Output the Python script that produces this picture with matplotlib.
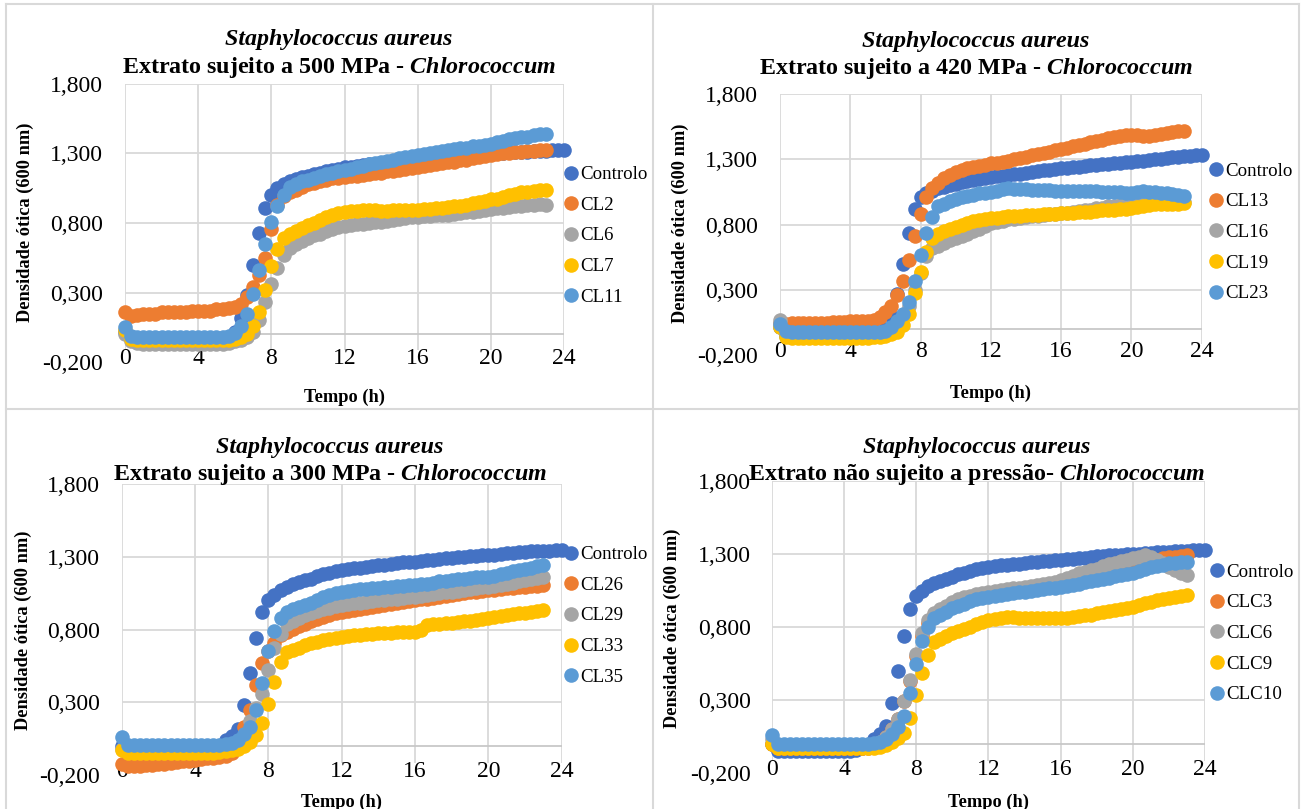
import matplotlib.pyplot as plt
from matplotlib.lines import Line2D
from matplotlib.ticker import FuncFormatter

plt.rcParams['font.family'] = 'Liberation Serif'
plt.rcParams['mathtext.fontset'] = 'custom'
plt.rcParams['mathtext.it'] = 'Liberation Serif:bold:italic'
plt.rcParams['mathtext.rm'] = 'Liberation Serif:bold'

# readings every 20 min; control runs to 24 h, extracts to 23 h
t_ctrl = [k / 3 for k in range(73)]
t_ext = t_ctrl[:70]

colors = ['#4472C4', '#ED7D31', '#A5A5A5', '#FFC000', '#5B9BD5']

# --- 500 MPa ---
names_500 = ['Controlo', 'CL2', 'CL6', 'CL7', 'CL11']
ctrl_500 = [
    0.02, -0.03, -0.04, -0.04, -0.04, -0.04, -0.04, -0.04, -0.04, -0.04, -0.04, -0.04,
    -0.04, -0.04, -0.04, -0.04, -0.03, -0.02, 0.02, 0.12, 0.28, 0.50, 0.73, 0.91,
    1.00, 1.05, 1.08, 1.10, 1.115, 1.13, 1.14, 1.15, 1.16, 1.17, 1.18, 1.19,
    1.20, 1.205, 1.21, 1.215, 1.22, 1.225, 1.23, 1.235, 1.24, 1.245, 1.25, 1.255,
    1.26, 1.265, 1.27, 1.273, 1.276, 1.28, 1.283, 1.286, 1.29, 1.293, 1.296, 1.298,
    1.30, 1.302, 1.304, 1.306, 1.308, 1.31, 1.312, 1.314, 1.316, 1.318,
    1.32, 1.322, 1.324]
cl2 = [
    0.16, 0.13, 0.14, 0.15, 0.15, 0.15, 0.16, 0.16, 0.16, 0.16, 0.16, 0.17,
    0.17, 0.17, 0.17, 0.18, 0.18, 0.19, 0.20, 0.22, 0.27, 0.34, 0.43, 0.55,
    0.76, 0.93, 0.99, 1.02, 1.04, 1.06, 1.08, 1.09, 1.10, 1.11, 1.12, 1.125,
    1.13, 1.135, 1.14, 1.145, 1.15, 1.155, 1.16, 1.17, 1.175, 1.18, 1.19, 1.195,
    1.20, 1.21, 1.215, 1.22, 1.23, 1.235, 1.24, 1.25, 1.255, 1.265, 1.27, 1.28,
    1.29, 1.295, 1.30, 1.305, 1.31, 1.31, 1.315, 1.315, 1.32, 1.32]
cl6 = [
    0.00, -0.05, -0.06, -0.07, -0.07, -0.07, -0.07, -0.07, -0.07, -0.07, -0.07, -0.07,
    -0.07, -0.07, -0.07, -0.07, -0.07, -0.06, -0.05, -0.04, -0.02, 0.02, 0.10, 0.23,
    0.36, 0.48, 0.57, 0.62, 0.65, 0.67, 0.69, 0.71, 0.72, 0.74, 0.755, 0.77,
    0.78, 0.785, 0.79, 0.795, 0.80, 0.805, 0.81, 0.815, 0.82, 0.83, 0.835, 0.84,
    0.845, 0.85, 0.85, 0.855, 0.86, 0.86, 0.865, 0.87, 0.875, 0.88, 0.885, 0.89,
    0.90, 0.905, 0.91, 0.915, 0.92, 0.925, 0.93, 0.93, 0.935, 0.93]
cl7 = [
    0.03, -0.03, -0.04, -0.04, -0.04, -0.04, -0.04, -0.04, -0.04, -0.04, -0.04, -0.04,
    -0.04, -0.04, -0.04, -0.04, -0.04, -0.04, -0.03, -0.02, 0.00, 0.06, 0.16, 0.32,
    0.49, 0.61, 0.69, 0.72, 0.745, 0.765, 0.785, 0.80, 0.82, 0.84, 0.855, 0.87,
    0.88, 0.885, 0.888, 0.89, 0.89, 0.89, 0.888, 0.888, 0.89, 0.89, 0.892, 0.895,
    0.895, 0.90, 0.90, 0.905, 0.91, 0.915, 0.92, 0.925, 0.93, 0.94, 0.95, 0.96,
    0.97, 0.975, 0.985, 1.00, 1.01, 1.02, 1.025, 1.03, 1.035, 1.04]
cl11 = [
    0.05, -0.01, -0.02, -0.02, -0.02, -0.02, -0.02, -0.02, -0.02, -0.02, -0.02, -0.02,
    -0.02, -0.02, -0.02, -0.02, -0.02, -0.01, 0.01, 0.06, 0.15, 0.29, 0.46, 0.65,
    0.81, 0.92, 1.00, 1.06, 1.08, 1.10, 1.11, 1.125, 1.14, 1.15, 1.16, 1.17,
    1.18, 1.19, 1.20, 1.21, 1.22, 1.23, 1.235, 1.245, 1.255, 1.265, 1.275, 1.28,
    1.29, 1.295, 1.30, 1.31, 1.315, 1.32, 1.33, 1.335, 1.34, 1.35, 1.355, 1.36,
    1.37, 1.38, 1.39, 1.40, 1.41, 1.415, 1.42, 1.43, 1.435, 1.44]

# --- 420 MPa ---
names_420 = ['Controlo', 'CL13', 'CL16', 'CL19', 'CL23']
ctrl_420 = [
    0.02, -0.05, -0.06, -0.06, -0.06, -0.06, -0.06, -0.06, -0.06, -0.06, -0.06, -0.06,
    -0.06, -0.06, -0.06, -0.06, -0.05, -0.04, 0.00, 0.10, 0.27, 0.50, 0.74, 0.92,
    1.01, 1.04, 1.06, 1.08, 1.09, 1.105, 1.115, 1.125, 1.135, 1.145, 1.15, 1.16,
    1.167, 1.17, 1.175, 1.18, 1.185, 1.19, 1.195, 1.20, 1.21, 1.215, 1.22, 1.225,
    1.23, 1.235, 1.24, 1.245, 1.25, 1.255, 1.26, 1.263, 1.267, 1.27, 1.275, 1.278,
    1.28, 1.285, 1.29, 1.295, 1.30, 1.305, 1.31, 1.315, 1.32, 1.322,
    1.326, 1.33, 1.333]
cl13 = [
    0.05, 0.04, 0.05, 0.05, 0.05, 0.05, 0.05, 0.05, 0.05, 0.055, 0.055, 0.055,
    0.06, 0.06, 0.06, 0.065, 0.07, 0.09, 0.13, 0.18, 0.26, 0.37, 0.53, 0.71,
    0.88, 1.01, 1.08, 1.12, 1.155, 1.18, 1.20, 1.215, 1.23, 1.24, 1.25, 1.26,
    1.27, 1.275, 1.28, 1.29, 1.30, 1.31, 1.32, 1.33, 1.34, 1.35, 1.36, 1.37,
    1.38, 1.39, 1.40, 1.41, 1.42, 1.43, 1.44, 1.45, 1.46, 1.47, 1.48, 1.485,
    1.49, 1.485, 1.48, 1.48, 1.49, 1.495, 1.50, 1.51, 1.515, 1.52]
cl16 = [
    0.07, -0.02, -0.03, -0.03, -0.03, -0.03, -0.03, -0.03, -0.03, -0.03, -0.03, -0.03,
    -0.03, -0.03, -0.03, -0.03, -0.03, -0.03, -0.02, 0.00, 0.04, 0.10, 0.18, 0.30,
    0.43, 0.56, 0.62, 0.64, 0.66, 0.68, 0.695, 0.71, 0.73, 0.75, 0.77, 0.79,
    0.81, 0.82, 0.83, 0.84, 0.845, 0.85, 0.86, 0.865, 0.87, 0.875, 0.88, 0.885,
    0.887, 0.89, 0.90, 0.905, 0.91, 0.915, 0.925, 0.93, 0.94, 0.945, 0.95, 0.955,
    0.96, 0.97, 0.98, 0.99, 0.99, 0.985, 0.98, 0.98, 0.98, 0.976]
cl19 = [
    0.02, -0.06, -0.07, -0.07, -0.07, -0.07, -0.07, -0.07, -0.07, -0.07, -0.07, -0.07,
    -0.07, -0.07, -0.07, -0.07, -0.06, -0.06, -0.05, -0.04, -0.02, 0.03, 0.12, 0.28,
    0.44, 0.59, 0.70, 0.73, 0.75, 0.765, 0.785, 0.80, 0.815, 0.825, 0.835, 0.845,
    0.85, 0.855, 0.86, 0.866, 0.868, 0.87, 0.872, 0.875, 0.877, 0.88, 0.882, 0.885,
    0.887, 0.89, 0.892, 0.895, 0.898, 0.90, 0.905, 0.91, 0.913, 0.916, 0.92, 0.922,
    0.925, 0.935, 0.945, 0.95, 0.955, 0.958, 0.96, 0.962, 0.962, 0.963]
cl23 = [
    0.04, -0.01, -0.02, -0.02, -0.02, -0.02, -0.02, -0.02, -0.02, -0.02, -0.02, -0.02,
    -0.02, -0.02, -0.02, -0.02, -0.02, -0.02, -0.01, 0.02, 0.06, 0.12, 0.21, 0.37,
    0.57, 0.74, 0.86, 0.94, 0.96, 0.98, 1.00, 1.01, 1.02, 1.03, 1.04, 1.045,
    1.05, 1.06, 1.07, 1.078, 1.075, 1.072, 1.07, 1.068, 1.066, 1.064, 1.062, 1.06,
    1.06, 1.06, 1.06, 1.06, 1.06, 1.058, 1.056, 1.054, 1.052, 1.05, 1.048, 1.046,
    1.045, 1.05, 1.055, 1.053, 1.05, 1.045, 1.04, 1.035, 1.028, 1.02]

# --- 300 MPa ---
names_300 = ['Controlo', 'CL26', 'CL29', 'CL33', 'CL35']
ctrl_300 = [
    0.00, -0.05, -0.05, -0.05, -0.05, -0.05, -0.05, -0.05, -0.05, -0.05, -0.05, -0.05,
    -0.05, -0.05, -0.04, -0.03, 0.00, 0.04, 0.07, 0.115, 0.28, 0.50, 0.74, 0.92,
    1.00, 1.04, 1.07, 1.094, 1.11, 1.125, 1.14, 1.15, 1.165, 1.18, 1.19, 1.20,
    1.21, 1.215, 1.22, 1.225, 1.23, 1.235, 1.24, 1.245, 1.25, 1.255, 1.26, 1.263,
    1.266, 1.27, 1.275, 1.28, 1.284, 1.288, 1.292, 1.296, 1.30, 1.303, 1.306, 1.308,
    1.31, 1.314, 1.318, 1.322, 1.326, 1.33, 1.334, 1.336, 1.338, 1.34,
    1.342, 1.344, 1.346]
cl26 = [
    -0.12, -0.14, -0.14, -0.135, -0.13, -0.13, -0.12, -0.12, -0.115, -0.11, -0.105, -0.10,
    -0.095, -0.09, -0.085, -0.08, -0.075, -0.065, -0.045, 0.01, 0.13, 0.25, 0.42, 0.57,
    0.65, 0.71, 0.76, 0.785, 0.805, 0.825, 0.84, 0.855, 0.87, 0.885, 0.90, 0.91,
    0.92, 0.927, 0.934, 0.94, 0.947, 0.954, 0.96, 0.967, 0.974, 0.98, 0.987, 0.994,
    1.00, 1.006, 1.012, 1.018, 1.025, 1.031, 1.037, 1.042, 1.048, 1.054, 1.06, 1.065,
    1.07, 1.074, 1.078, 1.082, 1.086, 1.09, 1.094, 1.098, 1.10, 1.105]
cl29 = [
    -0.02, -0.03, -0.03, -0.03, -0.03, -0.03, -0.03, -0.03, -0.03, -0.03, -0.03, -0.03,
    -0.03, -0.03, -0.03, -0.03, -0.03, -0.025, -0.02, 0.00, 0.06, 0.17, 0.26, 0.36,
    0.52, 0.67, 0.77, 0.84, 0.86, 0.88, 0.90, 0.915, 0.93, 0.94, 0.95, 0.96,
    0.968, 0.975, 0.98, 0.985, 0.99, 0.995, 1.00, 1.004, 1.008, 1.012, 1.016, 1.02,
    1.025, 1.03, 1.036, 1.042, 1.048, 1.054, 1.06, 1.066, 1.072, 1.078, 1.084, 1.09,
    1.094, 1.10, 1.107, 1.115, 1.122, 1.13, 1.14, 1.148, 1.156, 1.163]
cl33 = [
    -0.03, -0.045, -0.045, -0.045, -0.045, -0.045, -0.045, -0.045, -0.045, -0.045, -0.045, -0.045,
    -0.045, -0.045, -0.045, -0.045, -0.04, -0.035, -0.03, -0.02, 0.00, 0.03, 0.076, 0.16,
    0.29, 0.44, 0.58, 0.648, 0.66, 0.675, 0.694, 0.705, 0.715, 0.725, 0.735, 0.745,
    0.75, 0.755, 0.76, 0.765, 0.768, 0.77, 0.774, 0.776, 0.778, 0.78, 0.782, 0.784,
    0.785, 0.795, 0.83, 0.835, 0.84, 0.843, 0.847, 0.85, 0.855, 0.86, 0.866, 0.872,
    0.877, 0.885, 0.892, 0.898, 0.905, 0.91, 0.916, 0.922, 0.928, 0.934]
cl35 = [
    0.065, 0.01, 0.01, 0.01, 0.01, 0.01, 0.01, 0.01, 0.01, 0.01, 0.01, 0.01,
    0.01, 0.01, 0.01, 0.01, 0.01, 0.015, 0.02, 0.04, 0.08, 0.13, 0.25, 0.43,
    0.65, 0.79, 0.88, 0.92, 0.94, 0.955, 0.968, 0.985, 1.00, 1.02, 1.035, 1.05,
    1.06, 1.065, 1.07, 1.075, 1.08, 1.083, 1.086, 1.09, 1.094, 1.097, 1.10, 1.103,
    1.105, 1.11, 1.115, 1.12, 1.13, 1.135, 1.14, 1.145, 1.15, 1.153, 1.157, 1.16,
    1.163, 1.17, 1.18, 1.19, 1.20, 1.207, 1.213, 1.225, 1.235, 1.243]

# --- sem pressao ---
names_0 = ['Controlo', 'CLC3', 'CLC6', 'CLC9', 'CLC10']
ctrl_0 = [
    0.00, -0.05, -0.05, -0.05, -0.05, -0.05, -0.05, -0.05, -0.05, -0.05, -0.05, -0.05,
    -0.05, -0.05, -0.04, -0.03, -0.01, 0.03, 0.07, 0.12, 0.28, 0.50, 0.74, 0.92,
    1.01, 1.05, 1.08, 1.10, 1.115, 1.13, 1.145, 1.16, 1.17, 1.185, 1.195, 1.205,
    1.213, 1.218, 1.222, 1.226, 1.23, 1.234, 1.238, 1.242, 1.246, 1.25, 1.253, 1.256,
    1.26, 1.264, 1.268, 1.272, 1.276, 1.28, 1.284, 1.287, 1.29, 1.293, 1.296, 1.298,
    1.30, 1.302, 1.305, 1.308, 1.311, 1.314, 1.316, 1.318, 1.32, 1.322,
    1.324, 1.326, 1.327]
clc3 = [
    0.00, -0.03, -0.03, -0.03, -0.03, -0.03, -0.03, -0.03, -0.03, -0.03, -0.03, -0.03,
    -0.03, -0.03, -0.03, -0.03, -0.03, -0.02, 0.00, 0.05, 0.10, 0.17, 0.29, 0.43,
    0.60, 0.74, 0.83, 0.88, 0.91, 0.94, 0.96, 0.975, 0.99, 1.00, 1.01, 1.02,
    1.03, 1.04, 1.045, 1.05, 1.055, 1.06, 1.065, 1.07, 1.075, 1.08, 1.085, 1.09,
    1.10, 1.11, 1.12, 1.13, 1.14, 1.15, 1.16, 1.17, 1.18, 1.19, 1.20, 1.21,
    1.22, 1.23, 1.24, 1.25, 1.26, 1.27, 1.28, 1.28, 1.285, 1.29]
clc6 = [
    0.03, -0.02, -0.02, -0.02, -0.02, -0.02, -0.02, -0.02, -0.02, -0.02, -0.02, -0.02,
    -0.02, -0.02, -0.02, -0.02, -0.02, -0.01, 0.01, 0.05, 0.10, 0.17, 0.29, 0.44,
    0.615, 0.757, 0.848, 0.894, 0.92, 0.945, 0.974, 0.99, 1.005, 1.015, 1.025, 1.035,
    1.042, 1.048, 1.054, 1.06, 1.065, 1.07, 1.076, 1.082, 1.088, 1.095, 1.10, 1.11,
    1.12, 1.135, 1.15, 1.168, 1.18, 1.19, 1.20, 1.215, 1.23, 1.24, 1.25, 1.26,
    1.27, 1.28, 1.29, 1.28, 1.26, 1.235, 1.21, 1.19, 1.17, 1.156]
clc9 = [
    0.00, -0.03, -0.03, -0.03, -0.03, -0.03, -0.03, -0.03, -0.03, -0.03, -0.03, -0.03,
    -0.03, -0.03, -0.03, -0.03, -0.03, -0.03, -0.02, -0.01, 0.01, 0.04, 0.072, 0.174,
    0.334, 0.483, 0.608, 0.70, 0.72, 0.74, 0.757, 0.77, 0.785, 0.802, 0.818, 0.833,
    0.848, 0.855, 0.86, 0.866, 0.866, 0.864, 0.862, 0.86, 0.86, 0.86, 0.86, 0.86,
    0.86, 0.865, 0.87, 0.875, 0.88, 0.885, 0.894, 0.90, 0.91, 0.918, 0.926, 0.933,
    0.94, 0.952, 0.963, 0.974, 0.983, 0.992, 1.00, 1.007, 1.014, 1.02]
clc10 = [
    0.06, 0.00, 0.00, 0.00, 0.00, 0.00, 0.00, 0.00, 0.00, 0.00, 0.00, 0.00,
    0.00, 0.00, 0.00, 0.00, 0.00, 0.005, 0.01, 0.03, 0.07, 0.117, 0.19, 0.346,
    0.547, 0.706, 0.802, 0.86, 0.885, 0.905, 0.928, 0.945, 0.96, 0.975, 0.99, 1.00,
    1.008, 1.014, 1.02, 1.026, 1.032, 1.037, 1.042, 1.048, 1.054, 1.06, 1.065, 1.07,
    1.076, 1.083, 1.09, 1.097, 1.105, 1.114, 1.122, 1.13, 1.138, 1.146, 1.154, 1.161,
    1.168, 1.185, 1.20, 1.213, 1.22, 1.228, 1.236, 1.24, 1.244, 1.247]

W, H = 1309, 809


def fx(x):
    return x / W


def fy(y):
    return 1 - y / H


# layout in pixels: plot box (left, top, right, bottom), title centre/lines,
# y label centre, legend top-left
panels = [
    dict(box=(125, 83.6, 564, 362.3), tx=339, ty=(40, 67.5), yl=(25, 222),
         leg=(564, 166), xl=397,
         title='Extrato sujeito a 500 MPa - $Chlorococcum$',
         names=names_500, data=[ctrl_500, cl2, cl6, cl7, cl11]),
    dict(box=(780, 94, 1201.7, 355.4), tx=976, ty=(41.5, 68.5), yl=(680, 223),
         leg=(1209, 162.5), xl=393,
         title='Extrato sujeito a 420 MPa - $Chlorococcum$',
         names=names_420, data=[ctrl_420, cl13, cl16, cl19, cl23]),
    dict(box=(121.7, 483.8, 561.7, 775.2), tx=330, ty=(447, 475), yl=(23, 630),
         leg=(564, 546), xl=802,
         title='Extrato sujeito a 300 MPa - $Chlorococcum$',
         names=names_300, data=[ctrl_300, cl26, cl29, cl33, cl35]),
    dict(box=(772.3, 481, 1204.7, 773), tx=977, ty=(447, 475), yl=(672, 628),
         leg=(1210, 563.5), xl=802,
         title='Extrato não sujeito a pressão- $Chlorococcum$',
         names=names_0, data=[ctrl_0, clc3, clc6, clc9, clc10]),
]

fig = plt.figure(figsize=(W / 100, H / 100), dpi=100)
comma = FuncFormatter(lambda v, pos: f'{v:.3f}'.replace('.', ','))
grid_c = '#D9D9D9'
dot = 10.5

for p in panels:
    l, t, r, b = p['box']
    ax = fig.add_axes([fx(l), fy(b), (r - l) / W, (b - t) / H])
    ax.set_xlim(0, 24)
    ax.set_ylim(-0.2, 1.8)
    ax.set_xticks(range(0, 25, 4))
    ax.set_yticks([-0.2, 0.3, 0.8, 1.3, 1.8])
    ax.yaxis.set_major_formatter(comma)
    for s in ax.spines.values():
        s.set_visible(False)

    # gridlines stop short of the bottom label row
    ax.vlines(ax.get_xticks(), -0.115, 1.8, color=grid_c, lw=1.3, zorder=1)
    ax.hlines(ax.get_yticks()[1:], 0, 24, color=grid_c, lw=1.3, zorder=1)
    ax.axhline(0, color='#C8C8C8', lw=1.3, zorder=1.1)
    ax.tick_params(length=0, labelsize=17, colors='black')
    ax.tick_params(axis='y', pad=15.6)
    ax.tick_params(axis='x', pad=-10.3)

    handles = []
    for i, (vals, c) in enumerate(zip(p['data'], colors)):
        tt = t_ctrl if i == 0 else t_ext
        ax.plot(tt, vals, ls='none', marker='o', ms=dot, mew=0, color=c,
                clip_on=False, zorder=3 + i)
        handles.append(Line2D([], [], ls='none', marker='o', ms=dot, mew=0, color=c))

    ax.legend(handles, p['names'], loc='upper left',
              bbox_to_anchor=(fx(p['leg'][0]), fy(p['leg'][1])),
              bbox_transform=fig.transFigure, frameon=False, fontsize=13.6,
              borderpad=0, borderaxespad=0, handlelength=0.75,
              handletextpad=0.12, labelspacing=0.71)

    fig.text(fx(p['tx']), fy(p['ty'][0]), 'Staphylococcus aureus', ha='center',
             va='center', fontsize=17.3, fontstyle='italic', fontweight='bold')
    fig.text(fx(p['tx']), fy(p['ty'][1]), p['title'], ha='center', va='center',
             fontsize=17.3, fontweight='bold')
    fig.text(fx(p['yl'][0]), fy(p['yl'][1]), 'Densidade ótica (600 nm)',
             rotation=90, ha='center', va='center', fontsize=13.2, fontweight='bold')
    fig.text(fx((l + r) / 2), fy(p['xl']), 'Tempo (h)', ha='center', va='center',
             fontsize=13.2, fontweight='bold')

# panel frames
frame = dict(color=grid_c, lw=1.5)
fig.add_artist(Line2D([fx(6), fx(6)], [fy(4), fy(809)], **frame))
fig.add_artist(Line2D([fx(1299), fx(1299)], [fy(4), fy(809)], **frame))
fig.add_artist(Line2D([fx(6), fx(1299)], [fy(4), fy(4)], **frame))
fig.add_artist(Line2D([fx(652.7), fx(652.7)], [fy(4), fy(809)], **frame))
fig.add_artist(Line2D([fx(6), fx(1299)], [fy(409.3), fy(409.3)], **frame))

fig.savefig('out.png', dpi=100)
